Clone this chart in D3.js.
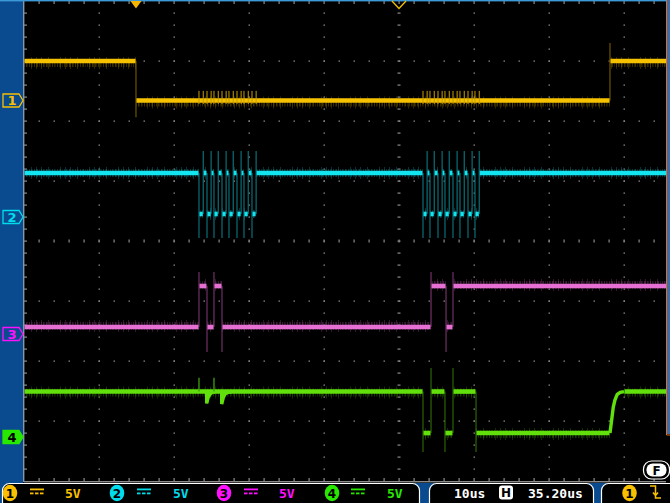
<!DOCTYPE html>
<html><head><meta charset="utf-8">
<script src="https://cdn.jsdelivr.net/npm/d3@7/dist/d3.min.js"></script>
<style>html,body{margin:0;padding:0;background:#000;overflow:hidden}</style>
</head><body><svg id="c" width="670" height="503"></svg>
<script>
// ---------------- data ----------------
const channelNames = ["1", "2", "3", "4"];
const voltsPerDivLabels = ["5V", "5V", "5V", "5V"];
const timePerDivLabel = "10us";
const horizPosLabel = "35.20us";
// logic levels in volts [low, high]
const ch1Levels = [0, 3.29];
const ch2Levels = [0.25, 3.67];
const ch3Levels = [0.58, 4.0];
const ch4Levels = [0.33, 3.79];
// starting state at left edge (1 = high)
const startStates = [1, 1, 0, 1];
// toggle times in microseconds relative to screen centre
const ch1Edges = [-35.07, 28.13];
const ch2Edges = [-26.67, -26.1, -25.6, -25.05, -24.67, -24.1, -23.6, -23.05,
                  -22.67, -22.1, -21.6, -21.05, -20.67, -20.1, -19.6, -19.05,
                  3.2, 3.75, 4.13, 4.7, 5.2, 5.75, 6.13, 6.7,
                  7.2, 7.75, 8.13, 8.7, 9.2, 9.75, 10.13, 10.7];
const ch3Edges = [-26.67, -25.6, -24.67, -23.6, 4.27, 6.27, 7.2];
const ch4Edges = [3.2, 4.27, 6.13, 7.2, 10.27];
// channel 4 slow rising edge at the end [t, V]
const ch4Ramp = [[28.13, 0.33], [28.35, 1.4], [28.57, 2.5], [28.8, 3.1], [29.1, 3.55], [29.5, 3.72], [30.0, 3.79]];
// channel 4 dips with recovery during the first burst [t, V]
const ch4Dip1 = [[-25.64, 3.79], [-25.64, 2.8], [-25.45, 3.3], [-25.2, 3.58], [-24.9, 3.72], [-24.5, 3.79]];
const ch4Dip2 = [[-23.64, 3.79], [-23.64, 2.75], [-23.42, 3.3], [-23.2, 3.58], [-22.8, 3.72], [-22.3, 3.79]];
const ch4Blips = [-26.67, -24.67];
const ch4BlipHeight = 1.15;
// ringing overshoot / undershoot at edges (volts)
const spikeOver = [1.5, 1.83, 1.17, 1.96];
const spikeUnder = [1.4, 2.0, 2.08, 1.58];
// channel offsets (divisions from screen centre)
const chOffsets = [2.342, 0.4, -1.55, -3.267];
const voltsPerDiv = 5;
const triggerT = -35.07;

// ---------------- styles ----------------
const coreCol = ["#f6c200", "#12e4f0", "#e56fd3", "#62e00c"];
const dimCol = ["#6e5500", "#0b6e78", "#703066", "#2a6405"];
const labCol = ["#f8c000", "#00dcec", "#ff10ff", "#28e800"];
const fuzzOff = [2, 0, -1, 1];

const svg = d3.select("#c");
const x = d3.scaleLinear().domain([-50, 50]).range([24, 774]);
const yDiv = d3.scaleLinear().domain([-4, 4]).range([481, 1]);
const yCh = (i, v) => yDiv(chOffsets[i] + v / voltsPerDiv);
const tMin = -50, tMax = 50;

svg.append("rect").attr("width", 670).attr("height", 503).attr("fill", "#000");

const defs = svg.append("defs");
defs.append("clipPath").attr("id", "plot").append("rect")
  .attr("x", 24).attr("y", 1).attr("width", 642).attr("height", 480);
const hairA = [0, 1, 3, 4, 6, 8, 9, 11, 13, 14, 16, 18, 20, 21];
const hairAo = [0.6, 0.35, 0.5, 0.3, 0.55, 0.4, 0.25, 0.5, 0.35, 0.55, 0.3, 0.45, 0.5, 0.3];
const hairB = [2, 7, 12, 19];
coreCol.forEach((c, i) => {
  const p = defs.append("pattern").attr("id", "fa" + i).attr("patternUnits", "userSpaceOnUse")
    .attr("width", 23).attr("height", 20);
  hairA.forEach((hx, k) => p.append("rect").attr("x", hx).attr("y", 0).attr("width", 1).attr("height", 20)
    .attr("fill", dimCol[i]).attr("opacity", hairAo[k]));
  const q = defs.append("pattern").attr("id", "fb" + i).attr("patternUnits", "userSpaceOnUse")
    .attr("width", 29).attr("height", 20);
  hairB.forEach(hx => q.append("rect").attr("x", hx).attr("y", 0).attr("width", 1).attr("height", 20)
    .attr("fill", dimCol[i]).attr("opacity", 0.45));
});

// ---------------- graticule ----------------
const grid = svg.append("g").attr("fill", "#8c8c8c");
const majorX = d3.range(-4, 5).map(d => x(d * 10)).filter(v => v > 30 && v < 660 && Math.abs(v - 399) > 1);
const majorY = d3.range(-3, 4).map(d => yDiv(d)).filter(v => Math.abs(v - 241) > 1);
const minorYs = d3.range(-4, 4.01, 0.2).map(d => yDiv(d)).filter(v => v > 5 && v < 478);
const minorXs = d3.range(-50, 50.01, 2).map(d => x(d)).filter(v => v > 28 && v < 664);
majorX.forEach(px => minorYs.forEach(py => grid.append("rect").attr("x", px - 0.5).attr("y", py - 0.5).attr("width", 1.5).attr("height", 1.2)));
majorY.forEach(py => minorXs.forEach(px => grid.append("rect").attr("x", px - 0.5).attr("y", py - 0.5).attr("width", 1.5).attr("height", 1.2)));
minorYs.forEach(py => grid.append("rect").attr("x", x(0) - 1.5).attr("y", py - 0.5).attr("width", 3).attr("height", 1.2));
minorXs.forEach(px => grid.append("rect").attr("x", px - 0.5).attr("y", yDiv(0) - 1.5).attr("width", 1.2).attr("height", 3));
minorXs.forEach(px => {
  grid.append("rect").attr("x", px - 0.5).attr("y", 1).attr("width", 1.2).attr("height", 3);
  grid.append("rect").attr("x", px - 0.5).attr("y", 478).attr("width", 1.2).attr("height", 3);
});
minorYs.forEach(py => grid.append("rect").attr("x", 24).attr("y", py - 0.5).attr("width", 3).attr("height", 1.2));

// ---------------- traces ----------------
const plot = svg.append("g").attr("clip-path", "url(#plot)");
const allLevels = [ch1Levels, ch2Levels, ch3Levels, ch4Levels];
const allEdges = [ch1Edges, ch2Edges, ch3Edges, ch4Edges];
const endTimes = [tMax, tMax, tMax, ch4Ramp[0][0]];

function segs(edges, levels, st, t0, t1) {
  const out = []; let l = st, prev = t0;
  edges.forEach(e => { out.push({ a: prev, b: e, v: levels[l] }); l = 1 - l; prev = e; });
  out.push({ a: prev, b: t1, v: levels[l] });
  return out;
}
const line = d3.line().x(d => x(d[0]));

allEdges.forEach((edges, i) => {
  const lv = allLevels[i];
  let s = segs(edges, lv, startStates[i], tMin, endTimes[i]);
  if (i === 3) s.push({ a: ch4Ramp[ch4Ramp.length - 1][0], b: tMax, v: lv[1] });
  const g = plot.append("g");
  let st = startStates[i];
  edges.forEach(e => {
    const rising = st === 0;
    const y0 = rising ? yCh(i, lv[0]) : yCh(i, lv[1]);
    const y1 = rising ? yCh(i, lv[1] + spikeOver[i]) : yCh(i, lv[0] - spikeUnder[i]);
    g.append("line").attr("x1", x(e)).attr("x2", x(e)).attr("y1", y0).attr("y2", y1)
      .attr("stroke", dimCol[i]).attr("stroke-width", 1.2);
    st = 1 - st;
  });
  s.forEach(d => {
    const yy = yCh(i, d.v) + fuzzOff[i];
    g.append("line").attr("x1", x(d.a)).attr("x2", x(d.b)).attr("y1", yy).attr("y2", yy)
      .attr("stroke", `url(#fb${i})`).attr("stroke-width", 12);
    g.append("line").attr("x1", x(d.a)).attr("x2", x(d.b)).attr("y1", yy).attr("y2", yy)
      .attr("stroke", `url(#fa${i})`).attr("stroke-width", 8);
  });
  s.forEach(d => g.append("line").attr("x1", x(d.a) + 0.5).attr("x2", x(d.b) - 0.5)
    .attr("y1", yCh(i, d.v)).attr("y2", yCh(i, d.v))
    .attr("stroke", coreCol[i]).attr("stroke-width", 4.6));
});

// ch1 crosstalk during channel 2 bursts
ch2Edges.forEach(e => plot.append("line").attr("x1", x(e)).attr("x2", x(e))
  .attr("y1", yCh(0, ch1Levels[0] - 0.3)).attr("y2", yCh(0, ch1Levels[0] + 0.8))
  .attr("stroke", "#c89c00").attr("stroke-width", 1));

// ch4 extra shapes
const l4 = line.y(d => yCh(3, d[1]));
[ch4Ramp, ch4Dip1, ch4Dip2].forEach(pts => plot.append("path").attr("d", l4(pts))
  .attr("fill", "none").attr("stroke", coreCol[3]).attr("stroke-width", 3.4));
ch4Blips.forEach(t => plot.append("line").attr("x1", x(t)).attr("x2", x(t))
  .attr("y1", yCh(3, ch4Levels[1])).attr("y2", yCh(3, ch4Levels[1] + ch4BlipHeight))
  .attr("stroke", "#3fa010").attr("stroke-width", 1.3));

// ---------------- frame ----------------
svg.append("rect").attr("x", 0).attr("y", 0).attr("width", 23).attr("height", 503).attr("fill", "#0a4a8e");
svg.append("rect").attr("x", 23).attr("y", 0).attr("width", 1.4).attr("height", 482).attr("fill", "#8597aa");
svg.append("rect").attr("x", 0).attr("y", 0).attr("width", 666).attr("height", 1.4).attr("fill", "#3d9ad8");
svg.append("rect").attr("x", 24).attr("y", 481).attr("width", 642).attr("height", 1.4).attr("fill", "#8a8a8a");
svg.append("rect").attr("x", 667).attr("y", 0).attr("width", 3).attr("height", 434).attr("fill", "#3b6db0");
svg.append("path").attr("d", "M666.5,0 V435 H670").attr("fill", "none").attr("stroke", "#e07020").attr("stroke-width", 1);

// top markers
svg.append("path").attr("d", `M${x(triggerT) - 5.5},1 L${x(triggerT) + 5.5},1 L${x(triggerT)},8.5 Z`).attr("fill", "#f5b400");
svg.append("path").attr("d", `M${x(0) - 7},1 L${x(0)},8.5 L${x(0) + 7},1`).attr("fill", "none")
  .attr("stroke", "#f0c000").attr("stroke-width", 1.3);

// channel ground markers
channelNames.forEach((n, i) => {
  const cy = yCh(i, 0);
  const sel = i === 3;
  svg.append("path").attr("d", `M3,${cy - 6.5} H19 L23,${cy} L19,${cy + 6.5} H3 Z`)
    .attr("fill", sel ? labCol[i] : "none").attr("stroke", labCol[i]).attr("stroke-width", 1.3);
  svg.append("text").attr("x", 12).attr("y", cy + 4.8).attr("text-anchor", "middle")
    .attr("font-family", "DejaVu Sans, sans-serif").attr("font-weight", "bold").attr("font-size", 13)
    .attr("fill", sel ? "#000" : labCol[i]).text(n);
});

// F icon
svg.append("rect").attr("x", 643.5).attr("y", 461).attr("width", 26).attr("height", 18).attr("rx", 8)
  .attr("fill", "#000").attr("stroke", "#fff").attr("stroke-width", 1.2);
svg.append("rect").attr("x", 646.5).attr("y", 463.5).attr("width", 20).attr("height", 13).attr("rx", 6).attr("fill", "#fff");
svg.append("text").attr("x", 656.5).attr("y", 475).attr("text-anchor", "middle")
  .attr("font-family", "DejaVu Sans, sans-serif").attr("font-weight", "bold").attr("font-size", 12).attr("fill", "#000").text("F");

// ---------------- bottom status bar ----------------
const bar = svg.append("g");
bar.append("rect").attr("x", 0).attr("y", 483).attr("width", 670).attr("height", 20).attr("fill", "#0a4a8e");
[[2, 419], [429, 593], [601, 690]].forEach(([a, b]) => bar.append("rect").attr("x", a + 0.5).attr("y", 483.5)
  .attr("width", b - a).attr("height", 30).attr("rx", 7).attr("fill", "#000").attr("stroke", "#fff").attr("stroke-width", 1.2));
const mono = "DejaVu Sans Mono, monospace";
const circX = [10, 117, 224, 332];
const dcX = [30, 137, 244, 351];
const vX = [65, 173, 279, 387];
channelNames.forEach((n, i) => {
  bar.append("ellipse").attr("cx", circX[i]).attr("cy", 493).attr("rx", 7.3).attr("ry", 8.2).attr("fill", labCol[i]);
  bar.append("text").attr("x", circX[i]).attr("y", 497.5).attr("text-anchor", "middle")
    .attr("font-family", "DejaVu Sans, sans-serif").attr("font-weight", "bold").attr("font-size", 12).attr("fill", "#000").text(n);
  bar.append("rect").attr("x", dcX[i]).attr("y", 488.5).attr("width", 14).attr("height", 1.8).attr("fill", labCol[i]);
  [0, 5, 10].forEach(o => bar.append("rect").attr("x", dcX[i] + o).attr("y", 492.5).attr("width", 3.5).attr("height", 1.8).attr("fill", labCol[i]));
  bar.append("text").attr("x", vX[i]).attr("y", 497.5).attr("font-family", mono).attr("font-weight", "bold")
    .attr("font-size", 13).attr("fill", labCol[i]).text(voltsPerDivLabels[i]);
});
bar.append("text").attr("x", 454).attr("y", 497.5).attr("font-family", mono).attr("font-weight", "bold")
  .attr("font-size", 13).attr("fill", "#fff").text(timePerDivLabel);
bar.append("rect").attr("x", 499).attr("y", 485.5).attr("width", 14).attr("height", 14).attr("rx", 3).attr("fill", "#fff");
bar.append("text").attr("x", 506).attr("y", 497).attr("text-anchor", "middle").attr("font-family", "DejaVu Sans, sans-serif")
  .attr("font-weight", "bold").attr("font-size", 12).attr("fill", "#000").text("H");
bar.append("text").attr("x", 528).attr("y", 497.5).attr("font-family", mono).attr("font-weight", "bold")
  .attr("font-size", 13).attr("fill", "#fff").text(horizPosLabel);
bar.append("ellipse").attr("cx", 629.5).attr("cy", 493).attr("rx", 7.3).attr("ry", 8.2).attr("fill", labCol[0]);
bar.append("text").attr("x", 629.5).attr("y", 497.5).attr("text-anchor", "middle").attr("font-family", "DejaVu Sans, sans-serif")
  .attr("font-weight", "bold").attr("font-size", 12).attr("fill", "#000").text(channelNames[0]);
bar.append("path").attr("d", "M650,486 H655.5 V498 H661 M653,492.5 L655.5,495.5 L658,492.5").attr("fill", "none")
  .attr("stroke", labCol[0]).attr("stroke-width", 1.5);
</script></body></html>
